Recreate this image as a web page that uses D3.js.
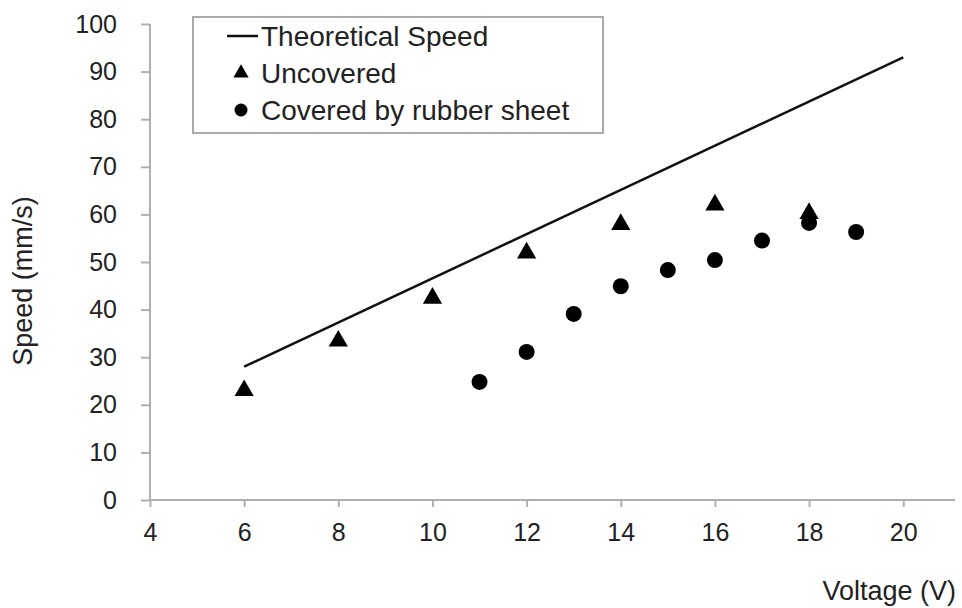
<!DOCTYPE html>
<meta charset="utf-8">
<script src="https://d3js.org/d3.v7.min.js"></script>
<style>
    body { margin: 0; background: #fff; }
    text { font-family: "Liberation Sans", Arial, sans-serif; fill: #222; }
    .axis path, .axis line { stroke: #b0b0b0; stroke-width: 2px; }
</style>
<body>
<div id="my_dataviz"></div>
<script>
    // data
    var theoryVolts = [6, 20]
    var theorySpeed = [28, 93]

    var uncoveredVolts = [6, 8, 10, 12, 14, 16, 18]
    var uncoveredSpeed = [23, 33.4, 42.4, 51.9, 57.9, 62, 60.2]

    var coveredVolts = [11, 12, 13, 14, 15, 16, 17, 18, 19]
    var coveredSpeed = [24.8, 31.1, 39.1, 44.9, 48.3, 50.4, 54.5, 58.2, 56.3]

    var xTicks = [4, 6, 8, 10, 12, 14, 16, 18, 20]
    var yTicks = [0, 10, 20, 30, 40, 50, 60, 70, 80, 90, 100]

    var legendLabels = ["Theoretical Speed", "Uncovered", "Covered by rubber sheet"]

    var width = 962
    var height = 608

    var svg = d3.select("#my_dataviz")
        .append("svg")
        .attr("width", width)
        .attr("height", height)

    // scales
    var x = d3.scaleLinear().domain([4, 21.1]).range([150, 955])
    var y = d3.scaleLinear().domain([0, 100]).range([500, 24])

    // axes
    var xAxis = svg.append("g")
        .attr("class", "axis")
        .attr("transform", "translate(0," + y(0) + ")")
        .call(d3.axisBottom(x).tickValues(xTicks).tickSize(7).tickSizeOuter(0).tickPadding(16))
    xAxis.selectAll("text").style("font-size", "25px")

    var yAxis = svg.append("g")
        .attr("class", "axis")
        .attr("transform", "translate(" + x(4) + ",0)")
        .call(d3.axisLeft(y).tickValues(yTicks).tickSize(9).tickSizeOuter(0).tickPadding(24))
    yAxis.selectAll("text").style("font-size", "25px")

    // trim the domain lines to the plot
    xAxis.select(".domain").attr("d", "M" + x(4) + ",0H" + x(21.1))
    yAxis.select(".domain").attr("d", "M0," + y(0) + "V" + y(100))

    // axis titles
    svg.append("text")
        .attr("x", 956)
        .attr("y", 600)
        .attr("text-anchor", "end")
        .style("font-size", "27px")
        .text("Voltage (V)")

    svg.append("text")
        .attr("transform", "translate(32,281) rotate(-90)")
        .attr("text-anchor", "middle")
        .style("font-size", "27px")
        .text("Speed (mm/s)")

    // theoretical line
    var line = d3.line()
        .x(function (d) { return x(d[0]) })
        .y(function (d) { return y(d[1]) })

    svg.append("path")
        .datum(d3.zip(theoryVolts, theorySpeed))
        .attr("d", line)
        .attr("fill", "none")
        .attr("stroke", "#111")
        .attr("stroke-width", 2.5)

    var tri = d3.symbol().type(d3.symbolTriangle).size(160)

    // uncovered
    svg.append("g")
        .selectAll("path")
        .data(d3.zip(uncoveredVolts, uncoveredSpeed))
        .enter()
        .append("path")
        .attr("d", tri)
        .attr("transform", function (d) { return "translate(" + x(d[0]) + "," + y(d[1]) + ")" })
        .attr("fill", "#000")

    // covered
    svg.append("g")
        .selectAll("circle")
        .data(d3.zip(coveredVolts, coveredSpeed))
        .enter()
        .append("circle")
        .attr("cx", function (d) { return x(d[0]) })
        .attr("cy", function (d) { return y(d[1]) })
        .attr("r", 8)
        .attr("fill", "#000")

    // legend
    var legend = svg.append("g")
    legend.append("rect")
        .attr("x", 193).attr("y", 17)
        .attr("width", 410).attr("height", 116)
        .attr("fill", "#fff")
        .attr("stroke", "#aaa")
        .attr("stroke-width", 2)

    var rowY = [36, 73, 110]
    legend.append("line")
        .attr("x1", 227).attr("x2", 258)
        .attr("y1", rowY[0]).attr("y2", rowY[0])
        .attr("stroke", "#111").attr("stroke-width", 2.5)
    legend.append("path")
        .attr("d", d3.symbol().type(d3.symbolTriangle).size(100))
        .attr("transform", "translate(241," + rowY[1] + ")")
    legend.append("circle")
        .attr("cx", 241).attr("cy", rowY[2]).attr("r", 6.5)

    legend.selectAll("text.lab")
        .data(legendLabels)
        .enter()
        .append("text")
        .attr("class", "lab")
        .attr("x", 261)
        .attr("y", function (d, i) { return rowY[i] })
        .attr("dy", "0.36em")
        .style("font-size", "28px")
        .text(function (d) { return d })
</script>
</body>
